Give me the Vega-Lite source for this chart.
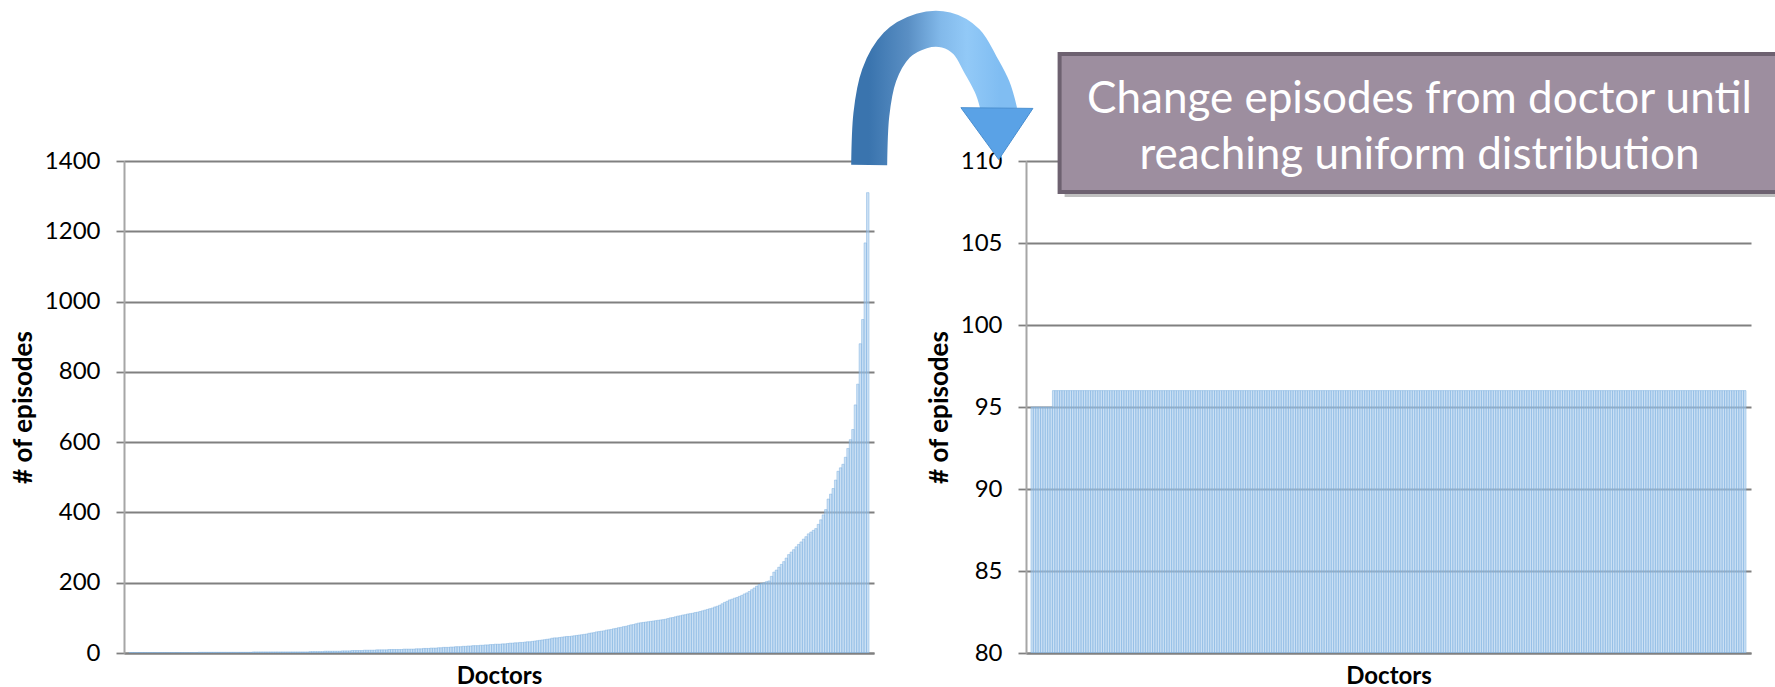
{
"$schema": "https://vega.github.io/schema/vega-lite/v6.json",
"background": "white",
"padding": {"left": 10, "top": 10, "right": 0, "bottom": 0},
"bounds": "flush",
"spacing": 152,
"config": {
  "view": {"stroke": null},
  "font": "Lato",
  "axisY": {"grid": true, "gridColor": "#808080", "gridWidth": 1.8, "domainColor": "#a6a6a6", "domainWidth": 2, "tickColor": "#808080", "tickSize": 8, "tickWidth": 1.8, "labelFont": "Lato", "labelFontSize": 24, "labelColor": "#000000", "labelPadding": 16, "format": "d", "titleFont": "Lato", "titleFontSize": 26, "titleFontWeight": "bold", "titleColor": "#000000", "titlePadding": 8},
  "axisX": {"grid": false, "labels": false, "ticks": false, "domainColor": "#808080", "domainWidth": 2, "titleFont": "Lato", "titleFontSize": 24, "titleFontWeight": "bold", "titleColor": "#000000", "titlePadding": 11}
},
"data": {"values": [
{"doctor":1,"before":1,"after":95},{"doctor":2,"before":1,"after":95},{"doctor":3,"before":1,"after":95},{"doctor":4,"before":1,"after":95},{"doctor":5,"before":1,"after":95},{"doctor":6,"before":1,"after":95},{"doctor":7,"before":1,"after":95},{"doctor":8,"before":1,"after":95},{"doctor":9,"before":1,"after":95},{"doctor":10,"before":1,"after":96},
{"doctor":11,"before":1,"after":96},{"doctor":12,"before":1,"after":96},{"doctor":13,"before":1,"after":96},{"doctor":14,"before":1,"after":96},{"doctor":15,"before":1,"after":96},{"doctor":16,"before":1,"after":96},{"doctor":17,"before":1,"after":96},{"doctor":18,"before":1,"after":96},{"doctor":19,"before":1,"after":96},{"doctor":20,"before":1,"after":96},
{"doctor":21,"before":1,"after":96},{"doctor":22,"before":1,"after":96},{"doctor":23,"before":1,"after":96},{"doctor":24,"before":1,"after":96},{"doctor":25,"before":1,"after":96},{"doctor":26,"before":1,"after":96},{"doctor":27,"before":1,"after":96},{"doctor":28,"before":1,"after":96},{"doctor":29,"before":2,"after":96},{"doctor":30,"before":2,"after":96},
{"doctor":31,"before":2,"after":96},{"doctor":32,"before":2,"after":96},{"doctor":33,"before":2,"after":96},{"doctor":34,"before":2,"after":96},{"doctor":35,"before":2,"after":96},{"doctor":36,"before":2,"after":96},{"doctor":37,"before":2,"after":96},{"doctor":38,"before":2,"after":96},{"doctor":39,"before":2,"after":96},{"doctor":40,"before":2,"after":96},
{"doctor":41,"before":2,"after":96},{"doctor":42,"before":2,"after":96},{"doctor":43,"before":2,"after":96},{"doctor":44,"before":2,"after":96},{"doctor":45,"before":2,"after":96},{"doctor":46,"before":2,"after":96},{"doctor":47,"before":2,"after":96},{"doctor":48,"before":2,"after":96},{"doctor":49,"before":2,"after":96},{"doctor":50,"before":2,"after":96},
{"doctor":51,"before":3,"after":96},{"doctor":52,"before":3,"after":96},{"doctor":53,"before":3,"after":96},{"doctor":54,"before":3,"after":96},{"doctor":55,"before":3,"after":96},{"doctor":56,"before":3,"after":96},{"doctor":57,"before":3,"after":96},{"doctor":58,"before":3,"after":96},{"doctor":59,"before":3,"after":96},{"doctor":60,"before":3,"after":96},
{"doctor":61,"before":3,"after":96},{"doctor":62,"before":3,"after":96},{"doctor":63,"before":3,"after":96},{"doctor":64,"before":3,"after":96},{"doctor":65,"before":3,"after":96},{"doctor":66,"before":3,"after":96},{"doctor":67,"before":3,"after":96},{"doctor":68,"before":3,"after":96},{"doctor":69,"before":3,"after":96},{"doctor":70,"before":3,"after":96},
{"doctor":71,"before":3,"after":96},{"doctor":72,"before":3,"after":96},{"doctor":73,"before":3,"after":96},{"doctor":74,"before":4,"after":96},{"doctor":75,"before":4,"after":96},{"doctor":76,"before":4,"after":96},{"doctor":77,"before":4,"after":96},{"doctor":78,"before":4,"after":96},{"doctor":79,"before":4,"after":96},{"doctor":80,"before":5,"after":96},
{"doctor":81,"before":5,"after":96},{"doctor":82,"before":5,"after":96},{"doctor":83,"before":5,"after":96},{"doctor":84,"before":5,"after":96},{"doctor":85,"before":5,"after":96},{"doctor":86,"before":5,"after":96},{"doctor":87,"before":6,"after":96},{"doctor":88,"before":6,"after":96},{"doctor":89,"before":6,"after":96},{"doctor":90,"before":6,"after":96},
{"doctor":91,"before":7,"after":96},{"doctor":92,"before":7,"after":96},{"doctor":93,"before":7,"after":96},{"doctor":94,"before":7,"after":96},{"doctor":95,"before":7,"after":96},{"doctor":96,"before":8,"after":96},{"doctor":97,"before":8,"after":96},{"doctor":98,"before":8,"after":96},{"doctor":99,"before":8,"after":96},{"doctor":100,"before":8,"after":96},
{"doctor":101,"before":9,"after":96},{"doctor":102,"before":9,"after":96},{"doctor":103,"before":9,"after":96},{"doctor":104,"before":9,"after":96},{"doctor":105,"before":9,"after":96},{"doctor":106,"before":10,"after":96},{"doctor":107,"before":10,"after":96},{"doctor":108,"before":10,"after":96},{"doctor":109,"before":10,"after":96},{"doctor":110,"before":10,"after":96},
{"doctor":111,"before":10,"after":96},{"doctor":112,"before":11,"after":96},{"doctor":113,"before":11,"after":96},{"doctor":114,"before":11,"after":96},{"doctor":115,"before":11,"after":96},{"doctor":116,"before":11,"after":96},{"doctor":117,"before":12,"after":96},{"doctor":118,"before":12,"after":96},{"doctor":119,"before":12,"after":96},{"doctor":120,"before":13,"after":96},
{"doctor":121,"before":13,"after":96},{"doctor":122,"before":13,"after":96},{"doctor":123,"before":14,"after":96},{"doctor":124,"before":14,"after":96},{"doctor":125,"before":14,"after":96},{"doctor":126,"before":15,"after":96},{"doctor":127,"before":15,"after":96},{"doctor":128,"before":16,"after":96},{"doctor":129,"before":16,"after":96},{"doctor":130,"before":16,"after":96},
{"doctor":131,"before":17,"after":96},{"doctor":132,"before":17,"after":96},{"doctor":133,"before":18,"after":96},{"doctor":134,"before":18,"after":96},{"doctor":135,"before":18,"after":96},{"doctor":136,"before":19,"after":96},{"doctor":137,"before":19,"after":96},{"doctor":138,"before":20,"after":96},{"doctor":139,"before":20,"after":96},{"doctor":140,"before":21,"after":96},
{"doctor":141,"before":21,"after":96},{"doctor":142,"before":21,"after":96},{"doctor":143,"before":22,"after":96},{"doctor":144,"before":22,"after":96},{"doctor":145,"before":23,"after":96},{"doctor":146,"before":23,"after":96},{"doctor":147,"before":24,"after":96},{"doctor":148,"before":24,"after":96},{"doctor":149,"before":25,"after":96},{"doctor":150,"before":25,"after":96},
{"doctor":151,"before":25,"after":96},{"doctor":152,"before":26,"after":96},{"doctor":153,"before":26,"after":96},{"doctor":154,"before":27,"after":96},{"doctor":155,"before":28,"after":96},{"doctor":156,"before":28,"after":96},{"doctor":157,"before":29,"after":96},{"doctor":158,"before":29,"after":96},{"doctor":159,"before":30,"after":96},{"doctor":160,"before":30,"after":96},
{"doctor":161,"before":31,"after":96},{"doctor":162,"before":32,"after":96},{"doctor":163,"before":32,"after":96},{"doctor":164,"before":33,"after":96},{"doctor":165,"before":34,"after":96},{"doctor":166,"before":35,"after":96},{"doctor":167,"before":36,"after":96},{"doctor":168,"before":37,"after":96},{"doctor":169,"before":38,"after":96},{"doctor":170,"before":39,"after":96},
{"doctor":171,"before":40,"after":96},{"doctor":172,"before":42,"after":96},{"doctor":173,"before":43,"after":96},{"doctor":174,"before":43,"after":96},{"doctor":175,"before":44,"after":96},{"doctor":176,"before":45,"after":96},{"doctor":177,"before":46,"after":96},{"doctor":178,"before":47,"after":96},{"doctor":179,"before":47,"after":96},{"doctor":180,"before":48,"after":96},
{"doctor":181,"before":49,"after":96},{"doctor":182,"before":50,"after":96},{"doctor":183,"before":51,"after":96},{"doctor":184,"before":52,"after":96},{"doctor":185,"before":53,"after":96},{"doctor":186,"before":54,"after":96},{"doctor":187,"before":56,"after":96},{"doctor":188,"before":57,"after":96},{"doctor":189,"before":58,"after":96},{"doctor":190,"before":60,"after":96},
{"doctor":191,"before":61,"after":96},{"doctor":192,"before":62,"after":96},{"doctor":193,"before":63,"after":96},{"doctor":194,"before":65,"after":96},{"doctor":195,"before":66,"after":96},{"doctor":196,"before":67,"after":96},{"doctor":197,"before":69,"after":96},{"doctor":198,"before":70,"after":96},{"doctor":199,"before":72,"after":96},{"doctor":200,"before":73,"after":96},
{"doctor":201,"before":75,"after":96},{"doctor":202,"before":76,"after":96},{"doctor":203,"before":78,"after":96},{"doctor":204,"before":80,"after":96},{"doctor":205,"before":81,"after":96},{"doctor":206,"before":83,"after":96},{"doctor":207,"before":85,"after":96},{"doctor":208,"before":86,"after":96},{"doctor":209,"before":87,"after":96},{"doctor":210,"before":88,"after":96},
{"doctor":211,"before":89,"after":96},{"doctor":212,"before":90,"after":96},{"doctor":213,"before":91,"after":96},{"doctor":214,"before":92,"after":96},{"doctor":215,"before":93,"after":96},{"doctor":216,"before":94,"after":96},{"doctor":217,"before":95,"after":96},{"doctor":218,"before":96,"after":96},{"doctor":219,"before":98,"after":96},{"doctor":220,"before":100,"after":96},
{"doctor":221,"before":101,"after":96},{"doctor":222,"before":103,"after":96},{"doctor":223,"before":105,"after":96},{"doctor":224,"before":106,"after":96},{"doctor":225,"before":108,"after":96},{"doctor":226,"before":109,"after":96},{"doctor":227,"before":111,"after":96},{"doctor":228,"before":112,"after":96},{"doctor":229,"before":113,"after":96},{"doctor":230,"before":115,"after":96},
{"doctor":231,"before":116,"after":96},{"doctor":232,"before":118,"after":96},{"doctor":233,"before":120,"after":96},{"doctor":234,"before":122,"after":96},{"doctor":235,"before":124,"after":96},{"doctor":236,"before":126,"after":96},{"doctor":237,"before":128,"after":96},{"doctor":238,"before":131,"after":96},{"doctor":239,"before":133,"after":96},{"doctor":240,"before":136,"after":96},
{"doctor":241,"before":140,"after":96},{"doctor":242,"before":144,"after":96},{"doctor":243,"before":147,"after":96},{"doctor":244,"before":151,"after":96},{"doctor":245,"before":153,"after":96},{"doctor":246,"before":156,"after":96},{"doctor":247,"before":158,"after":96},{"doctor":248,"before":161,"after":96},{"doctor":249,"before":164,"after":96},{"doctor":250,"before":168,"after":96},
{"doctor":251,"before":171,"after":96},{"doctor":252,"before":175,"after":96},{"doctor":253,"before":180,"after":96},{"doctor":254,"before":185,"after":96},{"doctor":255,"before":190,"after":96},{"doctor":256,"before":195,"after":96},{"doctor":257,"before":198,"after":96},{"doctor":258,"before":200,"after":96},{"doctor":259,"before":203,"after":96},{"doctor":260,"before":205,"after":96},
{"doctor":261,"before":218,"after":96},{"doctor":262,"before":230,"after":96},{"doctor":263,"before":236,"after":96},{"doctor":264,"before":244,"after":96},{"doctor":265,"before":252,"after":96},{"doctor":266,"before":260,"after":96},{"doctor":267,"before":270,"after":96},{"doctor":268,"before":280,"after":96},{"doctor":269,"before":287,"after":96},{"doctor":270,"before":294,"after":96},
{"doctor":271,"before":302,"after":96},{"doctor":272,"before":309,"after":96},{"doctor":273,"before":316,"after":96},{"doctor":274,"before":324,"after":96},{"doctor":275,"before":331,"after":96},{"doctor":276,"before":339,"after":96},{"doctor":277,"before":344,"after":96},{"doctor":278,"before":349,"after":96},{"doctor":279,"before":354,"after":96},{"doctor":280,"before":366,"after":96},
{"doctor":281,"before":379,"after":96},{"doctor":282,"before":393,"after":96},{"doctor":283,"before":408,"after":96},{"doctor":284,"before":438,"after":96},{"doctor":285,"before":452,"after":96},{"doctor":286,"before":468,"after":96},{"doctor":287,"before":492,"after":96},{"doctor":288,"before":517,"after":96},{"doctor":289,"before":527,"after":96},{"doctor":290,"before":537,"after":96},
{"doctor":291,"before":557,"after":96},{"doctor":292,"before":582,"after":96},{"doctor":293,"before":607,"after":96},{"doctor":294,"before":636,"after":96},{"doctor":295,"before":706,"after":96},{"doctor":296,"before":765,"after":96},{"doctor":297,"before":880,"after":96},{"doctor":298,"before":949,"after":96},{"doctor":299,"before":1167,"after":96},{"doctor":300,"before":1310,"after":96}
]},
"hconcat": [
  {
    "width": 750, "height": 492,
    "mark": {"type": "bar", "width": 2.5, "clip": true, "color": "#a9cbed", "fillOpacity": 0.6, "stroke": "#7aaee0", "strokeWidth": 0.6, "strokeOpacity": 0.8},
    "encoding": {
      "x": {"field": "doctor", "type": "quantitative", "scale": {"domain": [0.5, 300.5], "nice": false, "zero": false}, "axis": {"title": "Doctors"}},
      "y": {"field": "before", "type": "quantitative", "stack": null, "scale": {"domain": [0, 1400], "nice": false}, "axis": {"title": "# of episodes", "values": [0, 200, 400, 600, 800, 1000, 1200, 1400]}}
    }
  },
  {
    "width": 725, "height": 492,
    "layer": [
      {
        "mark": {"type": "bar", "width": 2.4167, "clip": true, "color": "#a9cbed", "fillOpacity": 0.6, "stroke": "#7aaee0", "strokeWidth": 0.6, "strokeOpacity": 0.8},
        "encoding": {
          "x": {"field": "doctor", "type": "quantitative", "scale": {"domain": [0.5, 300.5], "nice": false, "zero": false}, "axis": {"title": "Doctors"}},
          "y": {"field": "after", "type": "quantitative", "stack": null, "scale": {"domain": [80, 110], "nice": false, "zero": false}, "axis": {"title": "# of episodes", "values": [80, 85, 90, 95, 100, 105, 110]}}
        }
      },
      {
        "data": {"values": [
          {"ax": -67.4, "ay": 109.76}, {"ax": -66.5, "ay": 112.8}, {"ax": -63.2, "ay": 115.24}, {"ax": -55.8, "ay": 117.07}, {"ax": -45.4, "ay": 117.93},
          {"ax": -35.1, "ay": 117.99}, {"ax": -26.5, "ay": 117.26}, {"ax": -20.6, "ay": 115.85}, {"ax": -15.6, "ay": 114.45}, {"ax": -12.7, "ay": 113.0}
        ]},
        "mark": {"type": "line", "strokeWidth": 36, "strokeCap": "butt", "strokeJoin": "round", "interpolate": "cardinal",
          "stroke": {"gradient": "linear", "x1": 0, "y1": 0, "x2": 1, "y2": 0, "stops": [
            {"offset": 0, "color": "#3a74ae"}, {"offset": 0.3, "color": "#5a8fc4"}, {"offset": 0.55, "color": "#82b9ea"}, {"offset": 0.75, "color": "#92c9f7"}, {"offset": 1, "color": "#80bdf2"}]}},
        "encoding": {
          "x": {"field": "ax", "type": "quantitative", "scale": {"domain": [0.5, 300.5], "nice": false, "zero": false}, "axis": {"title": "Doctors"}},
          "y": {"field": "ay", "type": "quantitative", "scale": {"domain": [80, 110], "nice": false, "zero": false}, "axis": {"title": "# of episodes", "values": [80, 85, 90, 95, 100, 105, 110]}}
        }
      },
      {
        "data": {"values": [{"hx": -13.8, "hy": 111.67}]},
        "mark": {"type": "point", "filled": true, "opacity": 1, "size": 5184, "shape": "M-1,-0.72L1,-0.7L0.05,0.72Z", "color": "#5aa2e6", "stroke": "#4a8fd0", "strokeWidth": 1},
        "encoding": {
          "x": {"field": "hx", "type": "quantitative", "scale": {"domain": [0.5, 300.5], "nice": false, "zero": false}, "axis": {"title": "Doctors"}},
          "y": {"field": "hy", "type": "quantitative", "scale": {"domain": [80, 110], "nice": false, "zero": false}, "axis": {"title": "# of episodes", "values": [80, 85, 90, 95, 100, 105, 110]}}
        }
      },
      {
        "data": {"values": [{"bx": 12.5, "bx2": 315, "by": 108.11, "by2": 116.52}]},
        "layer": [
          {"mark": {"type": "rect", "color": "#000000", "opacity": 0.25, "xOffset": 5, "x2Offset": 5, "yOffset": 5, "y2Offset": 5}},
          {"mark": {"type": "rect", "fill": "#9d8e9f", "stroke": "#6d6170", "strokeWidth": 4}}
        ],
        "encoding": {
          "x": {"field": "bx", "type": "quantitative", "scale": {"domain": [0.5, 300.5], "nice": false, "zero": false}, "axis": {"title": "Doctors"}},
          "x2": {"field": "bx2"},
          "y": {"field": "by", "type": "quantitative", "scale": {"domain": [80, 110], "nice": false, "zero": false}, "axis": {"title": "# of episodes", "values": [80, 85, 90, 95, 100, 105, 110]}},
          "y2": {"field": "by2"}
        }
      },
      {
        "data": {"values": [
          {"tx": 163.5, "ty": 113.72, "label": "Change episodes from doctor until"},
          {"tx": 163.5, "ty": 110.3, "label": "reaching uniform distribution"}
        ]},
        "mark": {"type": "text", "font": "Lato", "fontSize": 44, "color": "#ffffff", "align": "center", "baseline": "middle"},
        "encoding": {
          "x": {"field": "tx", "type": "quantitative", "scale": {"domain": [0.5, 300.5], "nice": false, "zero": false}, "axis": {"title": "Doctors"}},
          "y": {"field": "ty", "type": "quantitative", "scale": {"domain": [80, 110], "nice": false, "zero": false}, "axis": {"title": "# of episodes", "values": [80, 85, 90, 95, 100, 105, 110]}},
          "text": {"field": "label"}
        }
      }
    ]
  }
]
}
